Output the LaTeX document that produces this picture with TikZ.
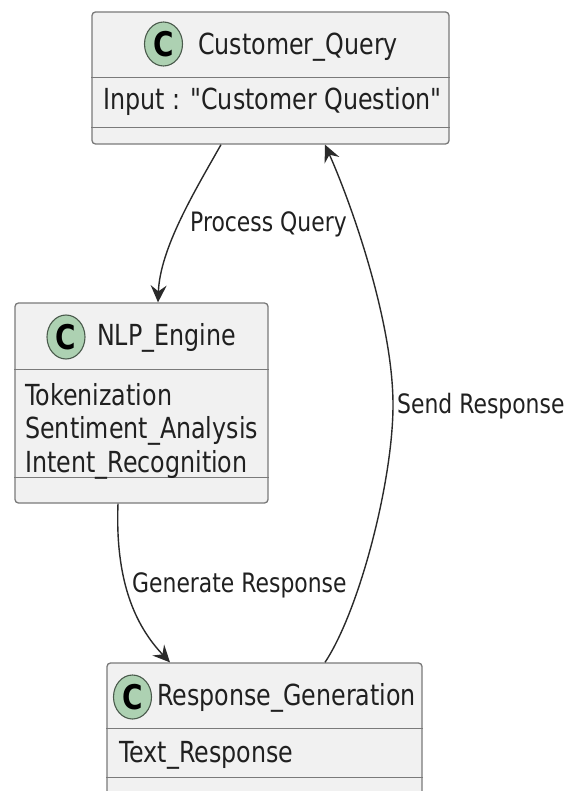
\documentclass[tikz,border=0pt]{standalone}
\usepackage{fontspec}
\newfontfamily\bodyfont{DejaVu Sans}[FakeStretch=0.82]
\usetikzlibrary{arrows.meta,shapes.geometric}
\definecolor{boxfill}{HTML}{F1F1F1}
\definecolor{boxline}{HTML}{7A7A7A}
\definecolor{circfill}{HTML}{ADD1B2}
\definecolor{circline}{HTML}{4A5A4C}
\definecolor{edgecol}{HTML}{2A2A2A}
\definecolor{txtcol}{HTML}{202020}
\begin{document}
\begin{tikzpicture}[x=1pt,y=-1pt,
  classbox/.style={draw=boxline, fill=boxfill, line width=1.3pt, rounded corners=3.5pt, inner sep=0pt},
  divider/.style={draw=boxline, line width=1.3pt},
  circ/.style={ellipse, draw=circline, fill=circfill, line width=1.1pt, minimum width=38pt, minimum height=44pt, inner sep=0pt, text=black, font=\bodyfont\fontsize{34}{36}\selectfont\bfseries},
  body/.style={anchor=base west, inner sep=0pt, text=txtcol, font=\bodyfont\fontsize{29}{33}\selectfont},
  elabel/.style={anchor=base west, inner sep=0pt, text=txtcol, font=\bodyfont\fontsize{26.7}{30}\selectfont},
  link/.style={draw=edgecol, line width=1.4pt, -{Stealth[length=17pt,width=16pt,inset=6pt]}}
]
\useasboundingbox (0,0) rectangle (565,791);
\fill[white] (0,0) rectangle (565,791);
\clip (0,0) rectangle (565,791);

% Customer_Query
\node[classbox, minimum width=357pt, minimum height=132pt] (cq) at (270.5,78) {};
\draw[divider] ([yshift=-66pt]cq.north west) -- ([yshift=-66pt]cq.north east);
\draw[divider] ([yshift=-116pt]cq.north west) -- ([yshift=-116pt]cq.north east);
\node[circ] (cqc) at (163.5,44) {C};
\node[body] (cqt) at (198,55) {Customer\_Query};
\node[body] (cqa) at (103,110) {Input : "Customer Question"};

% NLP_Engine
\node[classbox, minimum width=253pt, minimum height=200pt] (nlp) at (141.5,403) {};
\draw[divider] ([yshift=-67pt]nlp.north west) -- ([yshift=-67pt]nlp.north east);
\draw[divider] ([yshift=-175pt]nlp.north west) -- ([yshift=-175pt]nlp.north east);
\node[circ] (nlpc) at (66,337) {C};
\node[body] (nlpt) at (97,345) {NLP\_Engine};
\node[body] (nlpa1) at (25,405) {Tokenization};
\node[body] (nlpa2) at (25,438.5) {Sentiment\_Analysis};
\node[body] (nlpa3) at (25,472) {Intent\_Recognition};

% Response_Generation
\node[classbox, minimum width=315pt, minimum height=140pt] (rg) at (264.5,733) {};
\draw[divider] ([yshift=-66pt]rg.north west) -- ([yshift=-66pt]rg.north east);
\draw[divider] ([yshift=-115pt]rg.north west) -- ([yshift=-115pt]rg.north east);
\node[circ] (rgc) at (132.5,697) {C};
\node[body] (rgt) at (157,705) {Response\_Generation};
\node[body] (rga) at (119,762) {Text\_Response};

% connectors
\draw[link] ([xshift=-49.5pt]cq.south) .. controls +(-26,46) and +(2,-54) .. ([xshift=16.5pt]nlp.north);
\draw[link] ([xshift=-23.5pt]nlp.south) .. controls +(-3,77) and +(-35,-37) .. ([xshift=-94.5pt]rg.north);
\coordinate (srmid) at (393,405);
\draw[link] ([xshift=60.5pt]rg.north) .. controls +(35,-53) and +(0,75) .. (srmid)
   .. controls +(0,-85) and +(25,56) .. ([xshift=54.5pt]cq.south);

% labels
\node[elabel] (lpq) at (190,232) {Process Query};
\node[elabel] (lgr) at (132,592) {Generate Response};
\node[elabel] (lsr) at (397,413) {Send Response};
\end{tikzpicture}
\end{document}
